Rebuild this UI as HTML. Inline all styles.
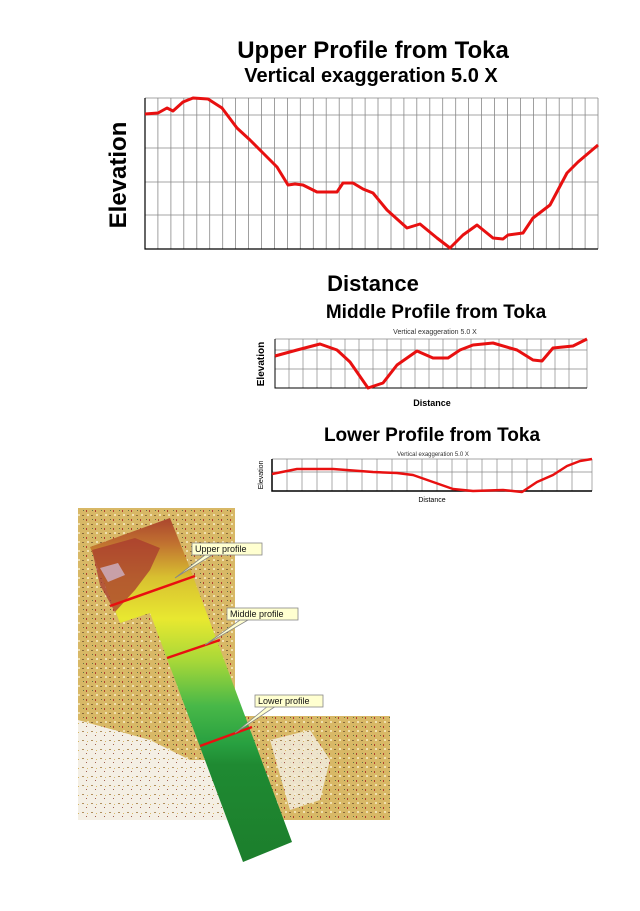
<!DOCTYPE html>
<html><head><style>html,body{margin:0;padding:0;background:#fff}svg{display:block}</style></head><body>
<svg width="640" height="911" viewBox="0 0 640 911" xmlns="http://www.w3.org/2000/svg" font-family="Liberation Sans, sans-serif">
<defs>
<linearGradient id="dem" x1="0" y1="515" x2="0" y2="862" gradientUnits="userSpaceOnUse">
<stop offset="0" stop-color="#a8402e"/><stop offset="0.08" stop-color="#c07030"/><stop offset="0.18" stop-color="#d8c030"/>
<stop offset="0.3" stop-color="#e8e830"/><stop offset="0.42" stop-color="#a8d838"/><stop offset="0.55" stop-color="#48b848"/>
<stop offset="0.66" stop-color="#28a040"/><stop offset="0.72" stop-color="#1f8a32"/><stop offset="1" stop-color="#1c7e2c"/>
</linearGradient>
<pattern id="spk" width="9" height="9" patternUnits="userSpaceOnUse">
<rect width="9" height="9" fill="#d8b866"/><rect x="1" y="2" width="2" height="1" fill="#8a6a3a"/><rect x="5" y="6" width="1" height="2" fill="#b04030"/><rect x="6" y="1" width="2" height="2" fill="#f0e0b0"/><rect x="2" y="6" width="1" height="1" fill="#607040"/>
</pattern>
<pattern id="spk2" width="9" height="9" patternUnits="userSpaceOnUse">
<rect width="9" height="9" fill="#f4efe4"/><rect x="1" y="2" width="2" height="1" fill="#b09060"/><rect x="5" y="6" width="1" height="1" fill="#a06050"/><rect x="6" y="3" width="1" height="1" fill="#d8b866"/>
</pattern>
</defs>

<!-- Upper chart -->
<text x="373" y="58" font-size="24" font-weight="bold" text-anchor="middle">Upper Profile from Toka</text>
<text x="371" y="82" font-size="20" font-weight="bold" text-anchor="middle">Vertical exaggeration 5.0 X</text>
<text transform="translate(126,175) rotate(-90)" font-size="24" font-weight="bold" text-anchor="middle">Elevation</text>
<text x="373" y="291" font-size="22" font-weight="bold" text-anchor="middle">Distance</text>
<g stroke="#888" stroke-width="0.8" fill="none">
<path d="M145 98H598M145 115H598M145 148H598M145 182H598M145 215H598"/>
<path d="M157.9 98V249M170.9 98V249M183.8 98V249M196.8 98V249M209.7 98V249M222.7 98V249M235.6 98V249M248.6 98V249M261.5 98V249M274.4 98V249M287.4 98V249M300.3 98V249M313.3 98V249M326.2 98V249M339.2 98V249M352.1 98V249M365.1 98V249M378 98V249M391 98V249M403.9 98V249M416.8 98V249M429.8 98V249M442.7 98V249M455.7 98V249M468.6 98V249M481.6 98V249M494.5 98V249M507.5 98V249M520.4 98V249M533.4 98V249M546.3 98V249M559.2 98V249M572.2 98V249M585.1 98V249M598 98V249"/>
</g>
<path d="M145 98V249H598" stroke="#000" stroke-width="1.2" fill="none"/>
<polyline fill="none" stroke="#e81010" stroke-width="3" stroke-linejoin="round" points="145,114 158,113 167,108 173,111 183,102 193,98 208,99 222,108 237,128 250,140 263,153 277,167 288,185 295,184 303,185 317,192 337,192 343,183 353,183 363,189 373,193 387,210 407,228 420,224 437,238 450,248 463,235 477,225 493,238 503,239 508,235 523,233 533,218 550,205 567,173 578,162 598,145"/>

<!-- Middle chart -->
<text x="436" y="318" font-size="19" font-weight="bold" text-anchor="middle">Middle Profile from Toka</text>
<text x="435" y="334" font-size="7" text-anchor="middle" fill="#333">Vertical exaggeration 5.0 X</text>
<text transform="translate(264,364) rotate(-90)" font-size="10" font-weight="bold" text-anchor="middle">Elevation</text>
<text x="432" y="406" font-size="9" font-weight="bold" text-anchor="middle">Distance</text>
<g stroke="#888" stroke-width="0.7" fill="none">
<path d="M275 339H587M275 350H587M275 369H587"/>
<path d="M289 339V388M303 339V388M317 339V388M331 339V388M345 339V388M359 339V388M373 339V388M387 339V388M401 339V388M415 339V388M429 339V388M443 339V388M457 339V388M471 339V388M485 339V388M499 339V388M513 339V388M527 339V388M541 339V388M555 339V388M569 339V388M587 339V388"/>
</g>
<path d="M275 339V388H587" stroke="#000" stroke-width="1" fill="none"/>
<polyline fill="none" stroke="#e81010" stroke-width="3" stroke-linejoin="round" points="275,356 297,350 320,344 337,350 350,362 368,388 383,383 397,365 417,351 433,358 448,358 460,350 473,345 493,343 517,350 533,360 542,361 553,348 573,346 587,339"/>

<!-- Lower chart -->
<text x="432" y="441" font-size="19" font-weight="bold" text-anchor="middle">Lower Profile from Toka</text>
<text x="433" y="456" font-size="6" text-anchor="middle" fill="#333">Vertical exaggeration 5.0 X</text>
<text transform="translate(263,475) rotate(-90)" font-size="7" text-anchor="middle">Elevation</text>
<text x="432" y="502" font-size="7" text-anchor="middle">Distance</text>
<g stroke="#888" stroke-width="0.7" fill="none">
<path d="M272 459H592M272 472H592"/>
<path d="M287 459V491M302 459V491M317 459V491M332 459V491M347 459V491M362 459V491M377 459V491M392 459V491M407 459V491M422 459V491M437 459V491M452 459V491M467 459V491M482 459V491M497 459V491M512 459V491M527 459V491M542 459V491M557 459V491M572 459V491M592 459V491"/>
</g>
<path d="M272 459V491H592" stroke="#000" stroke-width="1.5" fill="none"/>
<polyline fill="none" stroke="#e81010" stroke-width="2.5" stroke-linejoin="round" points="272,474 297,469 333,469 373,472 397,473 413,475 433,482 453,489 473,491 503,490 522,492 537,482 553,475 567,466 580,461 592,459"/>

<!-- Map -->
<rect x="78" y="508" width="157" height="312" fill="url(#spk)"/>
<rect x="235" y="716" width="155" height="104" fill="url(#spk)"/>
<path d="M78 720 L150 740 L190 760 L235 760 L235 820 L78 820Z" fill="url(#spk2)"/>
<path d="M270 740 L310 730 L330 760 L320 800 L290 810Z" fill="url(#spk2)" opacity="0.8"/>
<polygon points="90,547 170,518 188,563 292,842 243,862 150,613 120,623" fill="url(#dem)"/>
<path d="M92 550 L135 538 L160 548 L150 570 L135 590 L115 612 L100 585 Z" fill="#a83a2e" opacity="0.75"/>
<path d="M100 568 L118 563 L125 575 L108 582 Z" fill="#c8a0a8"/>
<line x1="110" y1="606" x2="195" y2="576" stroke="#e81010" stroke-width="2.5"/>
<line x1="167" y1="658" x2="220" y2="640" stroke="#e81010" stroke-width="2.5"/>
<line x1="200" y1="746" x2="252" y2="727" stroke="#e81010" stroke-width="2.5"/>
<g font-size="9" fill="#111" stroke-width="0.8">
<polygon points="205,555 212,555 175,578" fill="#ffffd0" stroke="#888"/>
<rect x="192" y="543" width="70" height="12" fill="#ffffd0" stroke="#888"/>
<text x="195" y="552">Upper profile</text>
<polygon points="240,620 248,620 205,645" fill="#ffffd0" stroke="#888"/>
<rect x="227" y="608" width="71" height="12" fill="#ffffd0" stroke="#888"/>
<text x="230" y="617">Middle profile</text>
<polygon points="268,706 276,706 235,733" fill="#ffffd0" stroke="#888"/>
<rect x="255" y="695" width="68" height="12" fill="#ffffd0" stroke="#888"/>
<text x="258" y="704">Lower profile</text>
</g>
</svg>
</body></html>
